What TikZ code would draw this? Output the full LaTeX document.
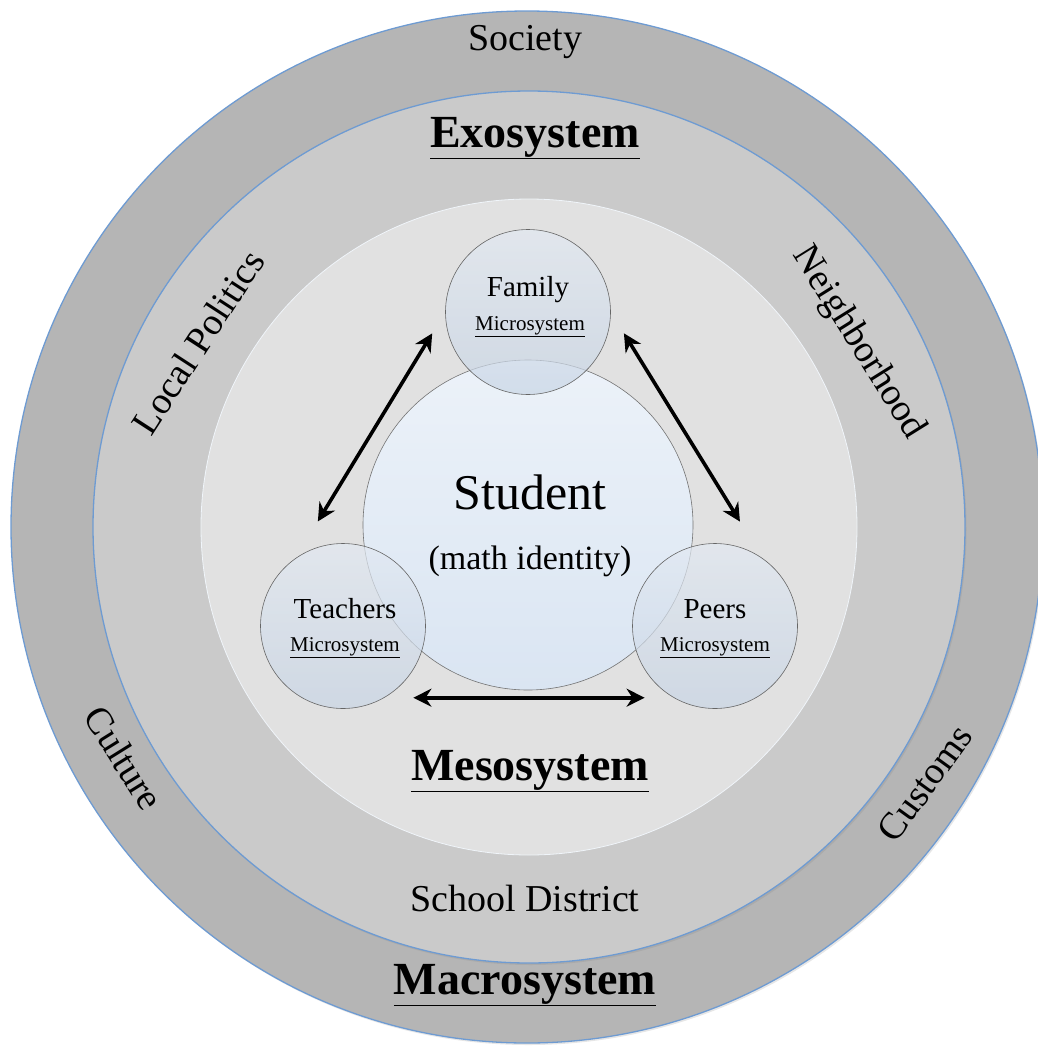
\documentclass[tikz,border=0pt]{standalone}
\usepackage{fontspec}
\setmainfont{Liberation Serif}
\usetikzlibrary{arrows.meta,shadows}

\definecolor{ringblue}{RGB}{110,155,210}
\definecolor{macrogray}{RGB}{181,181,181}
\definecolor{exogray}{RGB}{202,202,202}
\definecolor{mesogray}{RGB}{225,225,225}
\definecolor{studtop}{RGB}{236,242,249}
\definecolor{studbot}{RGB}{218,229,242}
\definecolor{microtop}{RGB}{226,233,242}
\definecolor{microbot}{RGB}{200,213,229}

\begin{document}
\begin{tikzpicture}[x=1pt,y=-1pt,
  ring/.style={circle, inner sep=0pt, draw=ringblue, line width=1.3pt,
    drop shadow={shadow xshift=1.5pt, shadow yshift=-2pt, opacity=0.2}},
  micro/.style={circle, inner sep=0pt, minimum size=165pt, draw=black!60,
    line width=0.6pt, top color=microtop, bottom color=microbot,
    fill opacity=0.7, draw opacity=1},
  ringtext/.style={font=\fontsize{38}{40}\selectfont},
  systext/.style={font=\fontsize{46}{50}\selectfont\bfseries},
  microname/.style={font=\fontsize{29}{32}\selectfont},
  microsub/.style={font=\fontsize{21}{24}\selectfont},
  biarrow/.style={{Stealth[length=18pt,width=18pt]}-{Stealth[length=18pt,width=18pt]},
    line width=3.6pt},
]
\newcommand{\ctrx}{527}
\newcommand{\ctry}{527}
\clip (0,0) rectangle (1038,1047);

% the three rings
\node[ring, fill=macrogray, minimum size=1032pt] (macro) at (\ctrx,\ctry) {};
\node[ring, fill=exogray, minimum size=872pt] (exo) at (\ctrx+2,\ctry) {};
\node[circle, inner sep=0pt, fill=mesogray, draw=white!90!ringblue, line width=0.8pt,
  minimum size=656pt] (meso) at (\ctrx+2,\ctry) {};

% student in the middle
\node[circle, inner sep=0pt, minimum size=330pt, draw=black!55, line width=0.6pt,
  top color=studtop, bottom color=studbot] (stud) at (528,525) {};

% microsystems
\node[micro] (fam) at (528,312) {};
\node[micro] (tea) at (343,626) {};
\node[micro] (pee) at (715,626) {};

\node[microname] (famname) at (528,290) {Family};
\node[microsub] (famsub) at (530,327) {\underline{Microsystem}};
\node[microname] (teaname) at (345,609) {Teachers};
\node[microsub] (teasub) at (345,648) {\underline{Microsystem}};
\node[microname] (peename) at (715,609) {Peers};
\node[microsub] (peesub) at (715,648) {\underline{Microsystem}};

\node[font=\fontsize{50}{54}\selectfont] (studname) at (530,492) {Student};
\node[font=\fontsize{34}{38}\selectfont] (studsub) at (530,561) {(math identity)};

% arrows between the microsystems
\draw[biarrow, shorten <=25pt, shorten >=43pt] (fam.180) -- (tea.125);
\draw[biarrow, shorten <=25pt, shorten >=43pt] (fam.0) -- (pee.55);
\draw[biarrow, shorten <=29pt, shorten >=29pt] (tea.300) -- (pee.240);

% ring labels
\node[ringtext] (soc) at (525,42) {Society};
\node[systext] (exolbl) at (535,138) {\underline{Exosystem}};
\node[ringtext, rotate=57] (pol) at (198,342) {Local Politics};
\node[ringtext, rotate=-58] (nbh) at (858,343) {Neighborhood};
\node[systext] (mesolbl) at (530,771) {\underline{Mesosystem}};
\node[ringtext, rotate=-58] (cult) at (124,758) {Culture};
\node[ringtext, rotate=54] (cust) at (925,783) {Customs};
\node[ringtext] (dist) at (525,898) {School District};
\node[systext] (macrolbl) at (525,985) {\underline{Macrosystem}};
\end{tikzpicture}
\end{document}
